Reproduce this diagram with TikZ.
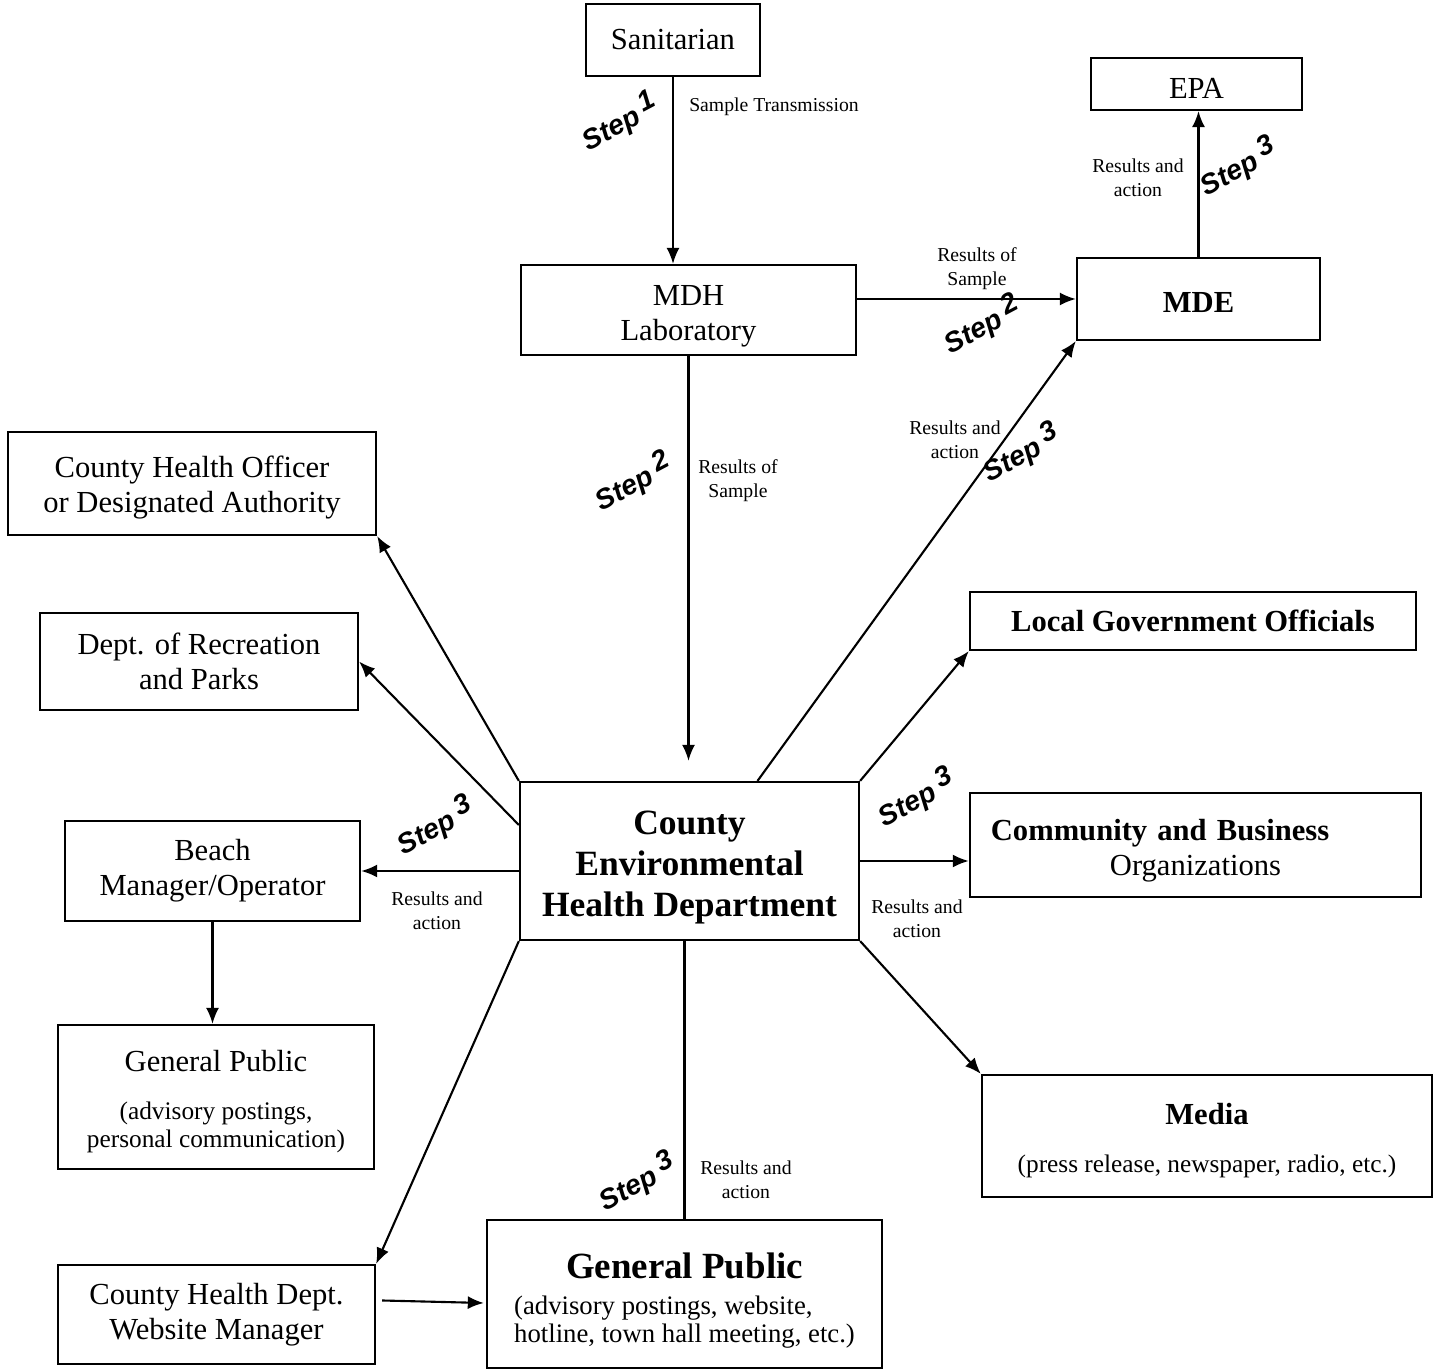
\documentclass[tikz,border=0pt]{standalone}
\usepackage{fontspec}
\setmainfont{Liberation Serif}
\newfontfamily\stepfont{Liberation Sans}
\usetikzlibrary{calc,arrows.meta}
\newcommand{\stepno}[1]{Step\hspace{0.22em}\raisebox{0.55ex}{#1}}
\newcommand{\lowr}[1]{\rule{0pt}{#1}}
\newcommand{\smtxt}{\fontsize{7.2}{7.9}\selectfont}
\begin{document}
\begin{tikzpicture}[x=0.01cm,y=-0.01cm,
	bx/.style={draw,line width=0.6pt,inner sep=0pt,align=center,font=\fontsize{8.7}{10}\selectfont},
	lbl/.style={align=center,inner sep=0pt,font=\fontsize{5.6}{6.8}\selectfont},
	stp/.style={rotate=28,inner sep=0pt,font=\stepfont\bfseries\itshape\fontsize{8}{8}\selectfont},
	ar/.style={line width=0.6pt,-{Latex[length=0.16cm,width=0.13cm]}}]
	\useasboundingbox (0,0) rectangle (1435,1370);
	\node[bx,minimum width=1.74cm,minimum height=0.72cm] (san) at (673,40) {Sanitarian};
	\node[bx,minimum width=2.11cm,minimum height=0.52cm] (epa) at (1196.5,84) {\lowr{8pt}EPA};
	\node[bx,minimum width=3.35cm,minimum height=0.90cm] (mdh) at (688.5,310) {\lowr{9.2pt}MDH\\Laboratory};
	\node[bx,minimum width=2.43cm,minimum height=0.82cm,font=\bfseries\fontsize{8.7}{10}\selectfont] (mde) at (1198.5,299) {\lowr{7.5pt}MDE};
	\node[bx,minimum width=3.68cm,minimum height=1.03cm] (cho) at (192,483.5) {\lowr{8.6pt}County Health Officer\\or Designated Authority};
	\node[bx,minimum width=3.18cm,minimum height=0.97cm] (rec) at (199,661.5) {Dept. of Recreation\\and Parks};
	\node[bx,minimum width=4.46cm,minimum height=0.58cm,font=\bfseries\fontsize{8.7}{10}\selectfont] (loc) at (1193,621) {Local Government Officials};
	\node[bx,minimum width=3.39cm,minimum height=1.58cm,font=\bfseries\fontsize{10.1}{11.7}\selectfont] (cehd) at (689.5,861) {\lowr{10.3pt}County\\Environmental\\Health Department};
	\node[bx,minimum height=1.04cm,text width=4.09cm,inner xsep=0.21cm,align=left] (comm) at (1195.5,845) {\lowr{9.1pt}\textbf{Community and Business}\\\hspace*{1.19cm}Organizations};
	\node[bx,minimum width=2.95cm,minimum height=1.00cm] (beach) at (212.5,871) {Beach\\Manager/Operator};
	\node[bx,minimum width=3.16cm,minimum height=1.44cm,font=\fontsize{8.7}{7.9}\selectfont] (gpl) at (216,1097) {\lowr{8.6pt}General Public\\[2mm]\smtxt(advisory postings,\\\smtxt personal communication)};
	\node[bx,minimum width=4.50cm,minimum height=1.22cm,font=\fontsize{8.7}{7.9}\selectfont] (media) at (1207,1136) {\lowr{8.6pt}\textbf{Media}\\[2mm]\smtxt(press release, newspaper, radio, etc.)};
	\node[bx,minimum width=3.17cm,minimum height=0.99cm] (web) at (216.5,1314.5) {County Health Dept.\\Website Manager};
	\node[bx,minimum width=3.95cm,minimum height=1.48cm,font=\fontsize{8.7}{8.2}\selectfont] (gp) at (684.5,1294) {\lowr{11.9pt}{\bfseries\fontsize{10.5}{8.2}\selectfont General Public}\\[0.7mm]\fontsize{7.6}{8.2}\selectfont\begin{tabular}[t]{@{}l@{}}(advisory postings, website,\\hotline, town hall meeting, etc.)\end{tabular}};
	\draw[ar] (san.south) -- (san.south |- mdh.north);
	\draw[ar] (mdh.east |- mde.west) -- (mde.west);
	\draw[ar] (mde.north) -- (mde.north |- epa.south);
	\draw[ar,shorten >=0.2cm] (mdh.south) -- (mdh.south |- cehd.north);
	\draw[ar] ([xshift=0.68cm]cehd.north) -- (mde.south west);
	\draw[ar] (cehd.north west) -- (cho.south east);
	\draw[ar] ([yshift=0.36cm]cehd.west) -- (rec.east);
	\draw[ar] (cehd.west |- beach.east) -- (beach.east);
	\draw[ar] (cehd.north east) -- (loc.south west);
	\draw[ar] (cehd.east) -- (cehd.east -| comm.west);
	\draw[ar] (cehd.south east) -- (media.north west);
	\draw[ar] (cehd.south west) -- (web.north east);
	\draw[line width=0.6pt] (gp.north |- cehd.south) -- (gp.north);
	\draw[ar] (beach.south) -- (beach.south |- gpl.north);
	\draw[ar] ($(web.east)+(6,-14)$) -- ($(gp.west)+(-2,9)$);
	\node[lbl] (l1) at (774,107) {Sample Transmission};
	\node[stp] (s1) at (620,122) {\stepno{1}};
	\node[lbl] (l2) at (977,269) {Results of\\Sample};
	\node[stp] (s2) at (982,325) {\stepno{2}};
	\node[lbl] (l3) at (1138,178) {Results and\\action};
	\node[stp] (s3) at (1238,167) {\stepno{3}};
	\node[lbl] (l4) at (738,481) {Results of\\Sample};
	\node[stp] (s4) at (633,482) {\stepno{2}};
	\node[lbl] (l5) at (955,440) {Results and\\action};
	\node[stp] (s5) at (1021,453) {\stepno{3}};
	\node[stp] (s6) at (435,826) {\stepno{3}};
	\node[lbl] (l6) at (437,911) {Results and\\action};
	\node[stp] (s7) at (916,798) {\stepno{3}};
	\node[lbl] (l7) at (917,919) {Results and\\action};
	\node[stp] (s8) at (637,1182) {\stepno{3}};
	\node[lbl] (l8) at (746,1180) {Results and\\action};
\end{tikzpicture}
\end{document}
